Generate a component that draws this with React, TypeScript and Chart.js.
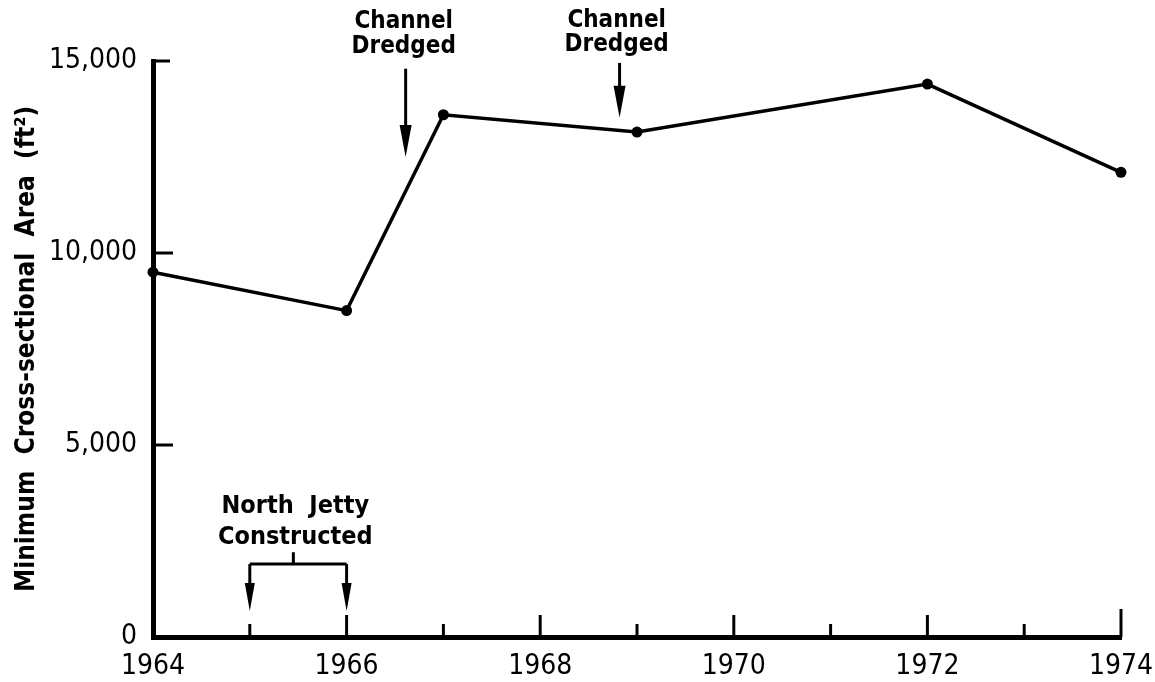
import React, { useEffect, useRef } from "react";
import { Chart, registerables } from "chart.js";

Chart.register(...registerables);

const years = [1964, 1966, 1967, 1969, 1972, 1974];
const areaValues = [9500, 8500, 13600, 13150, 14400, 12100];
const yTicks = [0, 5000, 10000, 15000];
const xLabelYears = [1964, 1966, 1968, 1970, 1972, 1974];
const xTickYears = [1965, 1966, 1967, 1968, 1969, 1970, 1971, 1972, 1973, 1974];
const yTickMarks = [5000, 10000, 15000];

// annotations in data units
const dredgeArrows = [
  { x: 1966.61, top: 14800, bottom: 12500, textX: 1966.59, line1Y: 16020, line2Y: 15370 },
  { x: 1968.82, top: 14950, bottom: 13520, textX: 1968.79, line1Y: 16040, line2Y: 15420 },
];
const jetty = { x1: 1965, x2: 1966, mid: 1965.45, barY: 1900, stemY: 2210, arrowBottom: 680, textX: 1965.47, line1Y: 3390, line2Y: 2580 };

const FONT = "'Liberation Sans Narrow', 'DejaVu Sans Condensed', sans-serif";

function drawArrow(ctx: CanvasRenderingContext2D, x: number, top: number, bottom: number, headLen: number, headW: number) {
  ctx.beginPath();
  ctx.moveTo(x, top);
  ctx.lineTo(x, bottom - headLen + 2);
  ctx.stroke();
  ctx.beginPath();
  ctx.moveTo(x - headW / 2, bottom - headLen);
  ctx.lineTo(x + headW / 2, bottom - headLen);
  ctx.lineTo(x, bottom);
  ctx.closePath();
  ctx.fill();
}

const annotPlugin = {
  id: "annot",
  afterDraw(chart: any) {
    const { ctx, scales } = chart;
    const xs = scales.x;
    const ys = scales.y;
    const px = (v: number) => xs.getPixelForValue(v);
    const py = (v: number) => ys.getPixelForValue(v);
    ctx.save();
    ctx.strokeStyle = "#000";
    ctx.fillStyle = "#000";
    ctx.lineCap = "butt";
    // x ticks (inside)
    ctx.lineWidth = 3;
    const base = py(0);
    xTickYears.forEach((yr) => {
      const len = yr === 1974 ? 28 : yr % 2 === 0 ? 22 : 13;
      ctx.beginPath();
      ctx.moveTo(px(yr), base);
      ctx.lineTo(px(yr), base - len);
      ctx.stroke();
    });
    // y ticks (inside)
    const left = px(1964);
    yTickMarks.forEach((v) => {
      const len = v === 15000 ? 17 : 20;
      ctx.beginPath();
      ctx.moveTo(left, py(v));
      ctx.lineTo(left + len, py(v));
      ctx.stroke();
    });
    // dredge arrows
    ctx.font = `bold 24px ${FONT}`;
    ctx.textAlign = "center";
    ctx.textBaseline = "middle";
    dredgeArrows.forEach((a) => {
      ctx.lineWidth = 3;
      drawArrow(ctx, px(a.x), py(a.top), py(a.bottom), 32, 12);
      ctx.fillText("Channel", px(a.textX), py(a.line1Y));
      ctx.fillText("Dredged", px(a.textX), py(a.line2Y));
    });
    // jetty bracket
    ctx.lineWidth = 3;
    ctx.beginPath();
    ctx.moveTo(px(jetty.x1), py(jetty.barY));
    ctx.lineTo(px(jetty.x2), py(jetty.barY));
    ctx.moveTo(px(jetty.mid), py(jetty.barY));
    ctx.lineTo(px(jetty.mid), py(jetty.stemY));
    ctx.stroke();
    drawArrow(ctx, px(jetty.x1), py(jetty.barY), py(jetty.arrowBottom), 28, 10);
    drawArrow(ctx, px(jetty.x2), py(jetty.barY), py(jetty.arrowBottom), 28, 10);
    ctx.font = `bold 25px ${FONT}`;
    ctx.fillText("North  Jetty", px(jetty.textX), py(jetty.line1Y));
    ctx.fillText("Constructed", px(jetty.textX), py(jetty.line2Y));
    ctx.restore();
  },
};

export default function App() {
  const ref = useRef<HTMLCanvasElement | null>(null);
  useEffect(() => {
    if (!ref.current) return;
    const chart = new Chart(ref.current, {
      type: "line",
      data: {
        datasets: [
          {
            data: years.map((x, i) => ({ x, y: areaValues[i] })),
            borderColor: "#000",
            backgroundColor: "#000",
            borderWidth: 3.5,
            pointRadius: 5.5,
            pointBackgroundColor: "#000",
            pointBorderWidth: 0,
            tension: 0,
            clip: false as any,
          },
        ],
      },
      options: {
        animation: false,
        responsive: false,
        maintainAspectRatio: false,
        layout: { padding: { left: 0, top: 61, right: 34, bottom: 0 } },
        plugins: { legend: { display: false }, tooltip: { enabled: false }, title: { display: false } },
        scales: {
          x: {
            type: "linear",
            min: 1964,
            max: 1974,
            afterBuildTicks: (s: any) => {
              s.ticks = xLabelYears.map((v) => ({ value: v }));
            },
            afterFit: (s: any) => {
              s.height = 45;
              s.paddingLeft = 0;
              s.paddingRight = 0;
            },
            ticks: {
              autoSkip: false,
              maxRotation: 0,
              padding: 13,
              color: "#000",
              font: { family: FONT, size: 28 },
              callback: (v: any) => String(v),
            },
            grid: { display: false, drawTicks: false },
            border: { display: true, color: "#000", width: 5 },
          },
          y: {
            type: "linear",
            min: 0,
            max: 15000,
            afterBuildTicks: (s: any) => {
              s.ticks = yTicks.map((v) => ({ value: v }));
            },
            afterFit: (s: any) => {
              s.width = 153;
              s.paddingTop = 0;
              s.paddingBottom = 0;
            },
            ticks: {
              padding: 16,
              color: "#000",
              font: { family: FONT, size: 28 },
              callback: (v: any) => Number(v).toLocaleString("en-US"),
            },
            grid: { display: false, drawTicks: false },
            border: { display: true, color: "#000", width: 5 },
            title: {
              display: true,
              text: "Minimum  Cross-sectional  Area  (ft²)",
              color: "#000",
              font: { family: FONT, size: 26, weight: "bold" },
              padding: { top: 12, bottom: 0 },
            },
          },
        },
      },
      plugins: [annotPlugin],
    });
    return () => chart.destroy();
  }, []);
  return (
    <div style={{ position: "fixed", left: 0, top: 0, width: 1155, height: 682, background: "#fff" }}>
      <canvas ref={ref} width={1155} height={682} style={{ width: 1155, height: 682, display: "block" }} />
    </div>
  );
}
